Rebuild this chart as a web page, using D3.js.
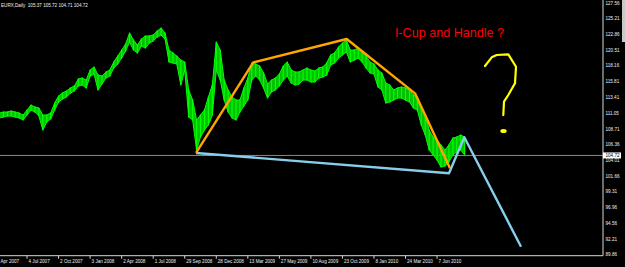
<!DOCTYPE html>
<html><head><meta charset="utf-8">
<script src="https://cdn.jsdelivr.net/npm/d3@7"></script>
<style>html,body{margin:0;padding:0;background:#000;overflow:hidden}svg{display:block}</style>
</head><body>
<svg id="c" width="625" height="267"></svg>
<script>
const title = "EURX,Daily  105.37 105.72 104.71 104.72";
const tickLabels = ["Apr 2007","4 Jul 2007","2 Oct 2007","3 Jan 2008","2 Apr 2008","1 Jul 2008","29 Sep 2008","28 Dec 2008","13 Mar 2009","27 May 2009","10 Aug 2009","23 Oct 2009","8 Jan 2010","24 Mar 2010","7 Jun 2010"];
const tickBars = [0,8,16,24,32,40,48,56,64,72,80,88,96,104,112];
const priceTicks = ["127.56","125.21","122.86","120.51","118.16","115.81","113.41","111.05","108.71","106.36","104.01","101.66","99.31","96.96","94.56","92.21","89.86"];
const lastPrice = 104.72;
const highs = [111.07,111.07,111.22,111.22,111.37,111.22,111.07,110.77,111.52,112.27,111.97,111.82,110.77,110.77,111.07,112.57,113.62,114.07,114.37,114.82,115.12,116.16,116.31,116.01,117.51,117.96,116.76,116.61,117.21,117.51,118.71,119.61,120.50,121.40,123.05,122.00,121.25,122.15,122.60,122.60,122.75,123.35,123.80,123.05,120.50,120.06,119.61,119.01,118.71,114.52,113.02,110.03,110.77,111.52,113.47,115.27,121.70,120.50,116.01,114.52,113.47,113.02,113.02,114.82,116.31,118.56,118.41,118.11,117.06,115.42,116.01,116.31,116.91,118.11,118.71,117.51,117.21,117.21,117.51,117.81,117.51,117.36,117.81,117.96,118.56,119.76,120.06,120.95,121.55,122.00,120.50,120.50,120.80,120.21,119.61,118.71,118.41,117.51,117.06,115.56,115.27,114.52,114.82,114.97,114.82,114.52,113.77,113.47,111.97,110.77,108.53,107.48,107.03,106.28,105.53,106.28,107.33,107.48,107.78,107.48];
const lows = [110.33,110.33,110.48,110.62,110.62,110.48,110.33,110.03,110.77,111.52,111.22,110.62,108.53,109.73,110.18,111.52,112.72,113.17,113.47,114.07,114.37,115.12,115.27,114.82,116.61,116.91,114.52,115.42,116.31,116.61,117.81,118.41,119.31,120.36,121.70,120.50,120.06,121.10,120.80,121.55,121.85,122.45,122.75,122.15,118.71,118.56,118.41,115.27,117.51,110.48,110.03,105.53,107.48,108.53,109.28,110.77,117.51,116.01,113.02,111.22,110.33,110.03,111.22,112.12,113.02,116.01,116.61,116.01,114.82,113.32,114.22,114.52,115.12,116.01,116.61,115.56,115.27,115.42,116.01,116.01,115.71,115.71,116.31,116.46,116.76,118.26,118.56,119.31,119.76,120.21,118.71,119.01,119.31,118.71,117.81,117.06,116.91,114.97,114.52,112.57,112.72,113.02,113.32,113.32,113.02,112.72,111.82,111.52,109.28,107.78,105.53,104.79,104.04,102.99,103.14,103.74,104.79,105.24,105.53,104.79];
const cupBars = [50.86,65.39,89.08,106.4,115.28];
const cupValues = [105.09,118.66,122.15,114.02,102.80];
const baseBars = [50.86,115.03,118.91,133.3];
const baseValues = [105.09,102.05,107.44,91.06];
const qBars = [124.16,125.86,127.13,130.07,132.02,131.77,130.07,128.98,128.80];
const qValues = [118.11,119.41,119.76,119.86,118.00,115.52,113.77,112.77,110.77];
const qDot = [128.85,108.38];
const note = "I-Cup and Handle ?";
const noteAt = [101.3,122.5];

const W = 603, H = 255.7;
const svg = d3.select("#c");
svg.append("rect").attr("width",625).attr("height",267).attr("fill","#000");
const x = d3.scaleLinear().domain([1.14,154.09]).range([0,W]);
const y = d3.scaleLinear().domain([89.86,127.56]).range([254.7,2.9]);

const plot = svg.append("g");
plot.append("clipPath").attr("id","pc").append("rect").attr("width",W).attr("height",H);
const g = plot.append("g").attr("clip-path","url(#pc)");

const idx = d3.range(highs.length);
g.append("path").datum(idx)
  .attr("d", d3.area().x(i=>x(i)).y0(i=>y(lows[i])).y1(i=>y(highs[i])))
  .attr("fill","#00c000");
g.append("path").datum(idx).attr("d", d3.line().x(i=>x(i)).y(i=>y(highs[i])))
  .attr("fill","none").attr("stroke","#00ff00").attr("stroke-width",1);
g.append("path").datum(idx).attr("d", d3.line().x(i=>x(i)).y(i=>y(lows[i])))
  .attr("fill","none").attr("stroke","#00ff00").attr("stroke-width",1);
g.selectAll("line.bar").data(idx).join("line").attr("class","bar")
  .attr("x1",i=>x(i)).attr("x2",i=>x(i))
  .attr("y1",i=>y(highs[i])-0.5).attr("y2",i=>y(lows[i])+0.5)
  .attr("stroke","#00ff00").attr("stroke-width",1.2);

g.append("line").attr("x1",0).attr("x2",W).attr("y1",y(lastPrice)).attr("y2",y(lastPrice))
  .attr("stroke","#8a8a8a").attr("stroke-width",1);

const ln = d3.line().x(d=>x(d[0])).y(d=>y(d[1]));
g.append("path").attr("d", ln(baseBars.map((b,i)=>[b,baseValues[i]])))
  .attr("fill","none").attr("stroke","#87ceeb").attr("stroke-width",2.4).attr("stroke-linejoin","round");
g.append("path").attr("d", ln(cupBars.map((b,i)=>[b,cupValues[i]])))
  .attr("fill","none").attr("stroke","#ffa500").attr("stroke-width",2.4).attr("stroke-linejoin","round");
g.append("path").attr("d", ln(qBars.map((b,i)=>[b,qValues[i]])))
  .attr("fill","none").attr("stroke","#ffff00").attr("stroke-width",2.2).attr("stroke-linejoin","round").attr("stroke-linecap","round");
g.append("ellipse").attr("cx",x(qDot[0])).attr("cy",y(qDot[1])).attr("rx",3.2).attr("ry",2).attr("fill","#ffff00");
g.append("text").attr("x",x(noteAt[0])).attr("y",y(noteAt[1])).text(note)
  .attr("fill","#ff0000").attr("font-family","Liberation Sans, Arial, sans-serif").attr("font-size",12.6);

svg.append("line").attr("x1",0).attr("x2",W).attr("y1",H).attr("y2",H).attr("stroke","#d8d8d8");
svg.append("line").attr("x1",W).attr("x2",W).attr("y1",0).attr("y2",H).attr("stroke","#d8d8d8");

const font = "Liberation Sans, Arial, sans-serif";
const xa = svg.append("g");
tickBars.forEach((b,i)=>{
  xa.append("line").attr("x1",x(b)).attr("x2",x(b)).attr("y1",H).attr("y2",H+3).attr("stroke","#d8d8d8");
  xa.append("text").attr("x",Math.max(0.5,x(b)+1.5)).attr("y",262.5).text(tickLabels[i])
    .attr("fill","#f0f0f0").attr("font-family",font).attr("font-size",4.6);
});
const ya = svg.append("g");
priceTicks.forEach(t=>{
  const v = parseFloat(t);
  ya.append("text").attr("x",W+2.5).attr("y",Math.max(4.6,y(v)+1.7)).text(t)
    .attr("fill","#f0f0f0").attr("font-family",font).attr("font-size",4.6);
});
ya.append("rect").attr("x",W).attr("y",y(lastPrice)-3).attr("width",18).attr("height",6).attr("fill","#ffffff");
ya.append("text").attr("x",W+2.5).attr("y",y(lastPrice)+1.7).text(lastPrice.toFixed(2))
  .attr("fill","#000").attr("font-family",font).attr("font-size",4.6);
svg.append("rect").attr("x",622).attr("y",0).attr("width",3).attr("height",42).attr("fill","#c8c8c8");

svg.append("text").attr("x",1).attr("y",6.5).text(title).attr("fill","#f0f0f0")
  .attr("font-family",font).attr("font-size",4.6).style("white-space","pre");
</script>
</body></html>
